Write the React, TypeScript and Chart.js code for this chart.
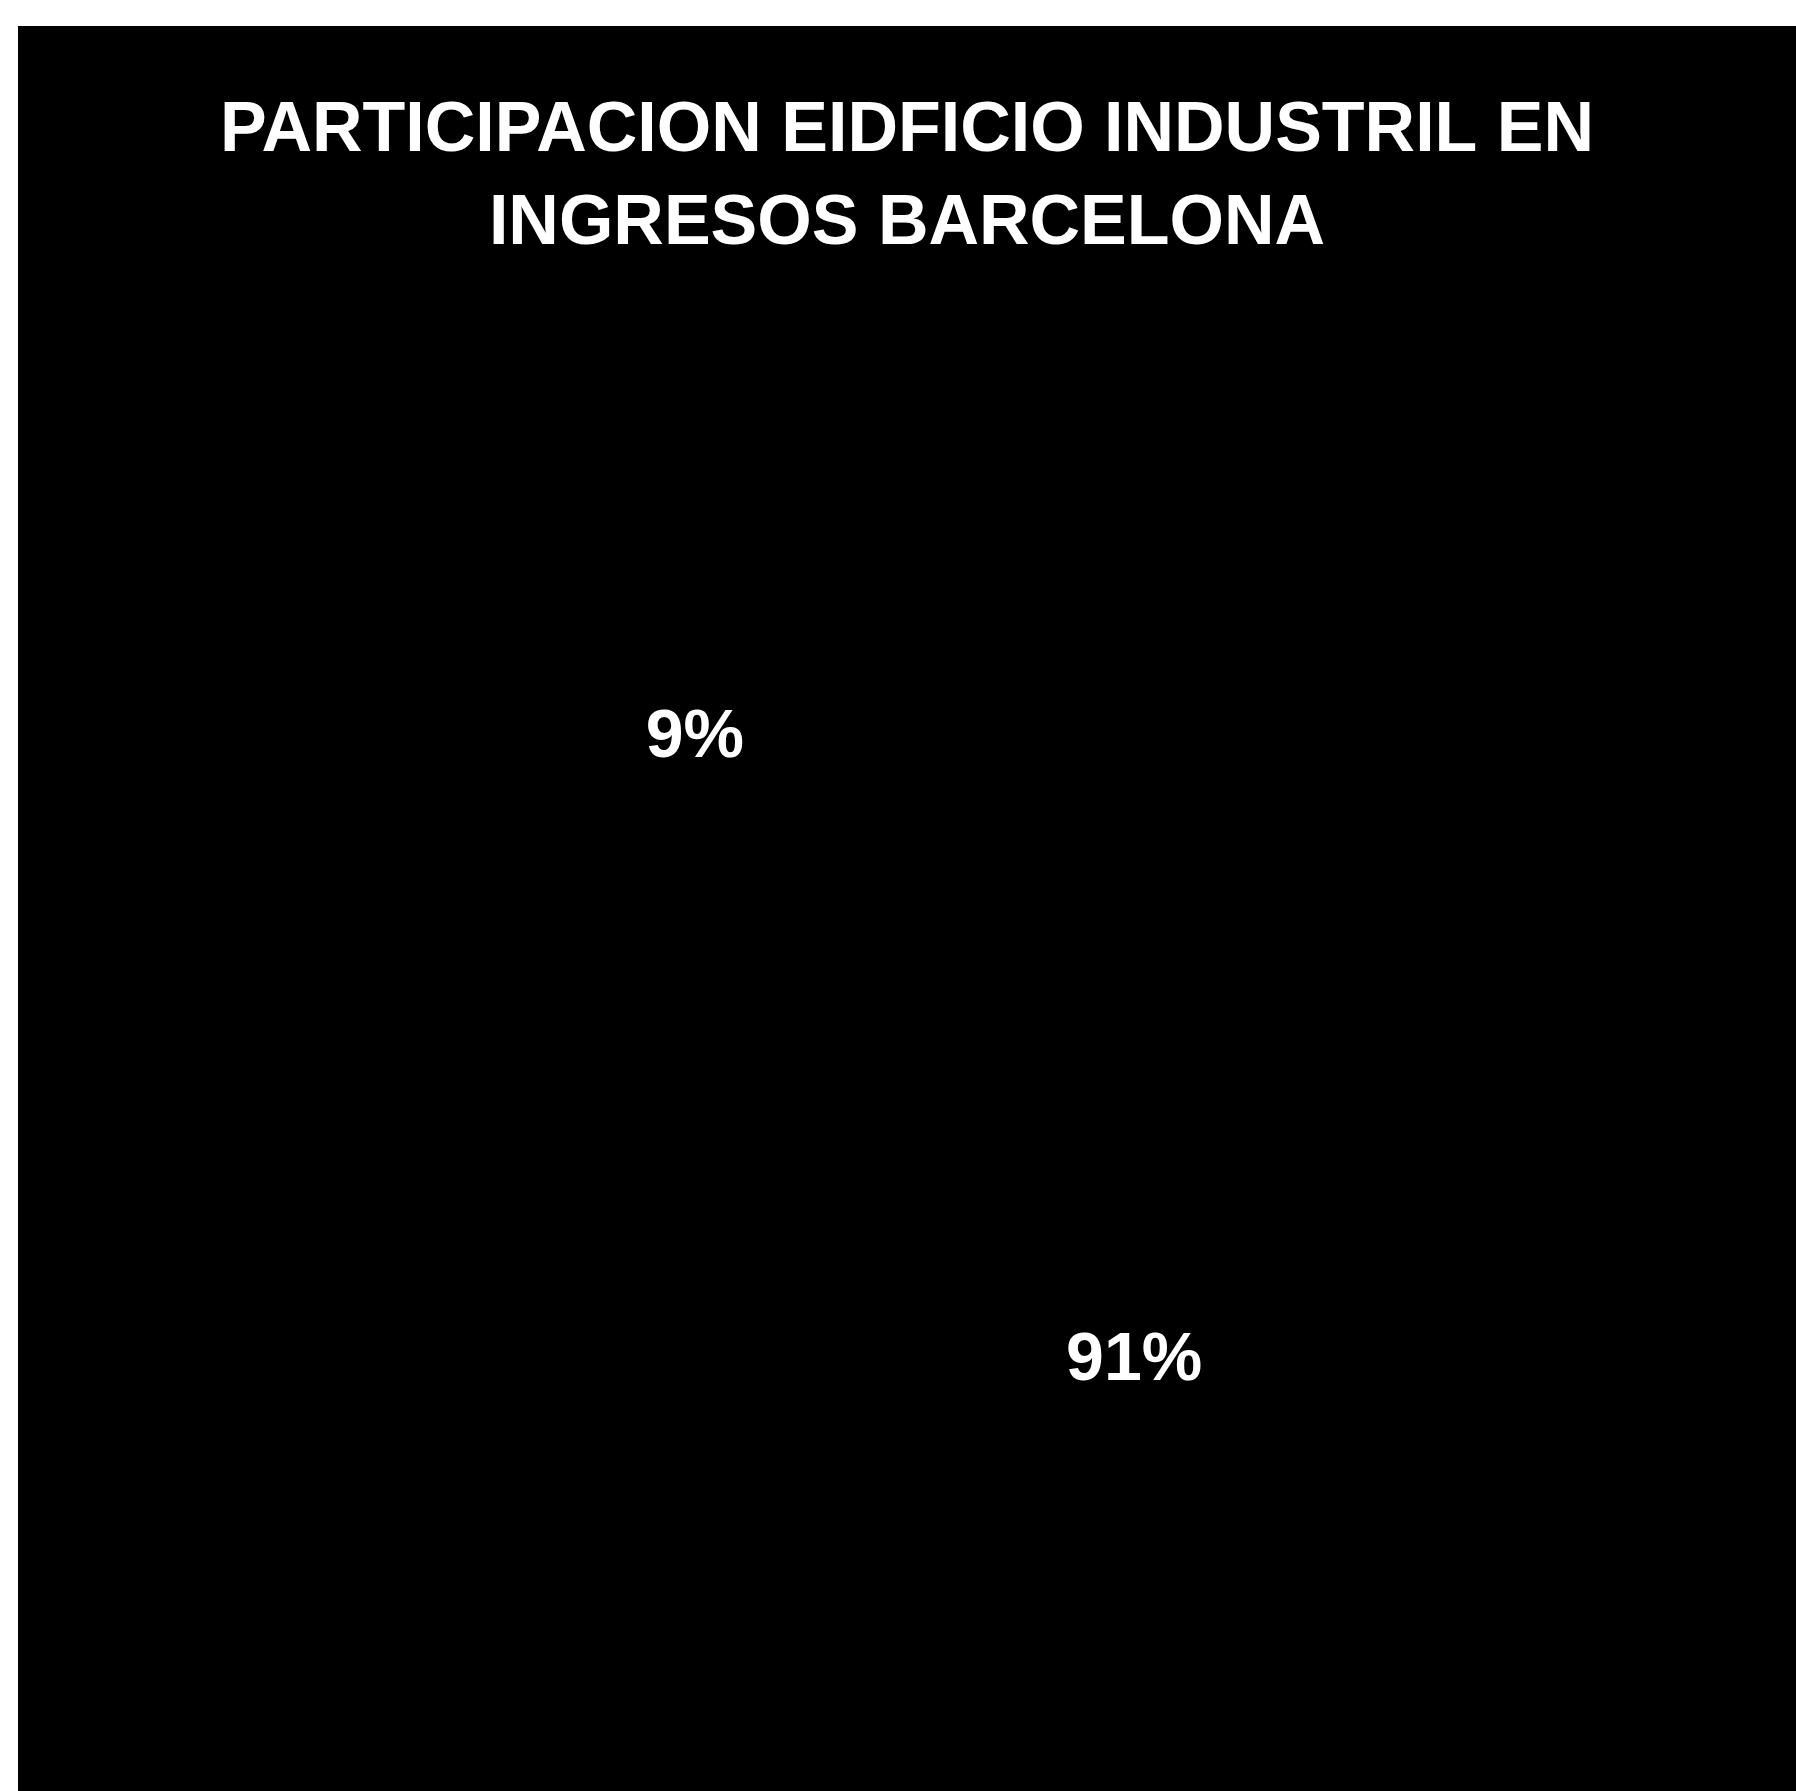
import React, { useEffect, useRef } from "react";
import { Chart, registerables } from "chart.js";

Chart.register(...registerables);

const categories: string[] = ["Edificio industrial", "Resto"];
const shares: number[] = [9, 91];
const labelTexts: string[] = ["9%", "91%"];
const titleLines: string[] = ["PARTICIPACION EIDFICIO INDUSTRIL EN", "INGRESOS BARCELONA"];

const FONT = "'Liberation Sans', Arial, Helvetica, sans-serif";

const bgPlugin = {
  id: "blackBg",
  beforeDraw(chart: any) {
    const { ctx, width, height } = chart;
    ctx.save();
    ctx.fillStyle = "#000000";
    ctx.fillRect(0, 0, width, height);
    ctx.restore();
  },
};

const labelPlugin = {
  id: "sliceLabels",
  afterDatasetsDraw(chart: any) {
    const meta = chart.getDatasetMeta(0);
    const ctx = chart.ctx;
    ctx.save();
    ctx.fillStyle = "#ffffff";
    ctx.font = `bold 68px ${FONT}`;
    ctx.textAlign = "center";
    ctx.textBaseline = "middle";
    meta.data.forEach((arc: any, i: number) => {
      const p = arc.getProps(["x", "y", "startAngle", "endAngle", "outerRadius"], true);
      const mid = (p.startAngle + p.endAngle) / 2;
      const r = p.outerRadius * 0.514;
      ctx.fillText(labelTexts[i], p.x + Math.cos(mid) * r, p.y + Math.sin(mid) * r);
    });
    ctx.restore();
  },
};

export default function App() {
  const ref = useRef<HTMLCanvasElement | null>(null);

  useEffect(() => {
    if (!ref.current) return;
    const chart = new Chart(ref.current, {
      type: "pie",
      data: {
        labels: categories,
        datasets: [
          {
            data: shares,
            backgroundColor: ["#000000", "#000000"],
            borderColor: "#000000",
            borderWidth: 0,
          },
        ],
      },
      options: {
        responsive: false,
        animation: false,
        rotation: -51.4,
        layout: { padding: 0 },
        plugins: {
          legend: { display: false },
          tooltip: { enabled: false },
          title: {
            display: true,
            text: titleLines,
            color: "#ffffff",
            font: { family: FONT, size: 70, weight: "bold", lineHeight: 1.33 },
            padding: { top: 59, bottom: 37 },
          },
          subtitle: {
            display: true,
            position: "left",
            fullSize: false,
            text: " ",
            color: "rgba(0,0,0,0)",
            font: { size: 1, lineHeight: 1 },
            padding: { top: 7, bottom: 7 },
          },
        },
      },
      plugins: [bgPlugin, labelPlugin],
    });
    return () => chart.destroy();
  }, []);

  return (
    <div style={{ position: "absolute", left: 18, top: 26, width: 1778, height: 1765, background: "#000" }}>
      <canvas ref={ref} width={1778} height={1765} style={{ display: "block" }} />
    </div>
  );
}
